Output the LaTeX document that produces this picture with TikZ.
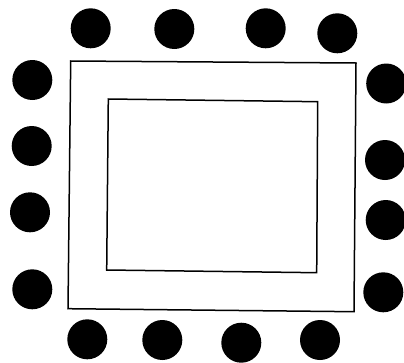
\documentclass[tikz,border=0pt]{standalone}
\usepackage{tikz}

\begin{document}
\begin{tikzpicture}[x=1pt, y=-1pt]

    \useasboundingbox (0, 0) rectangle (404, 362);

    % Outer table
    \draw[line width=1.5pt] (70.7, 61) -- (356, 63) -- (354, 311.7) -- (68, 308.7) -- cycle;

    % Inner opening
    \draw[line width=1.5pt] (108.3, 99) -- (317.7, 101.7) -- (316.7, 272.7) -- (106.7, 270) -- cycle;

    % Seats - top row
    \foreach \x/\y in {90.7/28.3, 174.3/29, 265.7/28.3, 337.3/33.3}
        \fill (\x, \y) circle (20);

    % Seats - left side
    \foreach \x/\y in {32.3/80, 31.7/146, 30/212.3, 32.3/289.3}
        \fill (\x, \y) circle (20);

    % Seats - right side
    \foreach \x/\y in {386.2/83.5, 385/160, 385.7/220, 383.3/292.3}
        \fill (\x, \y) circle (20);

    % Seats - bottom row
    \foreach \x/\y in {87.3/339.3, 162.3/340, 241.3/342.7, 320/340}
        \fill (\x, \y) circle (20);

\end{tikzpicture}
\end{document}
